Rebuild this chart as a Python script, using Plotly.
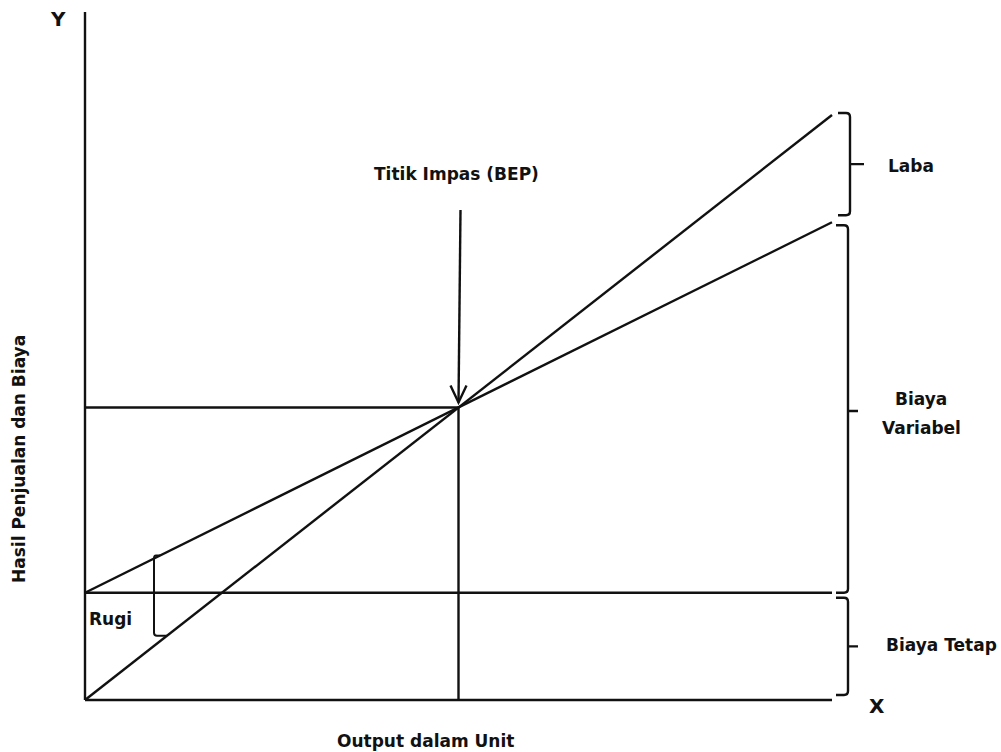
import plotly.graph_objects as go

# ---------------- data (break-even model) ----------------
output_units = [0, 100]          # output quantity range
sales_revenue = [0, 600]         # hasil penjualan at output range ends
total_cost = [110, 490]          # biaya total at output range ends
fixed_cost = [110, 110]          # biaya tetap
bep_units = 50                   # titik impas (output)
bep_value = 300                  # titik impas (value)

labels = {
    "bep": "Titik Impas (BEP)",
    "laba": "Laba",
    "var1": "Biaya",
    "var2": "Variabel",
    "tetap": "Biaya Tetap",
    "rugi": "Rugi",
    "x": "X",
    "y": "Y",
    "xtitle": "Output dalam Unit",
    "ytitle": "Hasil Penjualan dan Biaya",
}

# ---------------- layout geometry (pixels) ----------------
W, H = 1001, 752
X0PX, X1PX = 85, 832      # pixel of output 0 and 100
Y0PX = 700                # pixel of value 0
SY = 0.975                # pixels per value unit
SX = (X1PX - X0PX) / (output_units[1] - output_units[0])


def dx(p):
    return p / SX


def dy(p):
    return p / SY


xr = [-X0PX / SX, (W - X0PX) / SX]
yr = [-(H - Y0PX) / SY, Y0PX / SY]

INK = "#111111"
LW = 2.4

fig = go.Figure()


def seg(xs, ys, w=LW):
    fig.add_trace(go.Scatter(x=xs, y=ys, mode="lines",
                             line=dict(color=INK, width=w),
                             hoverinfo="skip", showlegend=False))


def rev(q):
    return sales_revenue[0] + (sales_revenue[1] - sales_revenue[0]) * q / output_units[1]


def cost(q):
    return total_cost[0] + (total_cost[1] - total_cost[0]) * q / output_units[1]


# axes
seg([0, 0], [0, dy(Y0PX - 12)])
seg(output_units, [0, 0])
# main lines
seg(output_units, sales_revenue)
seg(output_units, total_cost)
seg(output_units, fixed_cost)
# BEP guides
seg([0, bep_units], [bep_value, bep_value])
seg([bep_units, bep_units], [0, bep_value])

shapes = []


def path_shape(d, w=LW):
    shapes.append(dict(type="path", path=d, xref="x", yref="y",
                       line=dict(color=INK, width=w)))


def P(x, y):
    return f"{x:.4f},{y:.4f}"


def brace(xc_px, ytop, ybot, ymid, nub_px):
    xc = dx(xc_px - X0PX)
    hook = dx(12)
    rx, ry = dx(4), dy(4)
    d = (f"M{P(xc - hook, ytop)} L{P(xc - rx, ytop)} Q{P(xc, ytop)} {P(xc, ytop - ry)} "
         f"L{P(xc, ybot + ry)} Q{P(xc, ybot)} {P(xc - rx, ybot)} L{P(xc - hook, ybot)} "
         f"M{P(xc, ymid)} L{P(xc + dx(nub_px), ymid)}")
    path_shape(d)


# Laba brace
lt, lb = sales_revenue[1] + dy(2), total_cost[1] + dy(7)
brace(850, lt, lb, (lt + lb) / 2, 14)
# Biaya Variabel brace
brace(848, total_cost[1] - dy(3), fixed_cost[1], dy(Y0PX - 411), 10)
# Biaya Tetap brace
brace(848, fixed_cost[1] - dy(5), dy(5), fixed_cost[1] / 2, 10)

# Rugi brace
ur = dx(154 - X0PX)
qa, qb = ur + dx(6), ur + dx(13)
ya, yb = cost(qa), rev(qb)
d = (f"M{P(qa, ya)} L{P(ur + dx(2), ya)} Q{P(ur, ya)} {P(ur, ya - dy(3))} "
     f"L{P(ur, yb + dy(3))} Q{P(ur, yb)} {P(ur + dx(3), yb)} L{P(qb, yb)}")
path_shape(d, 2.0)

# BEP arrow
tail = dy(Y0PX - 210)
tip = bep_value + dy(5)
path_shape(f"M{P(bep_units + dx(2), tail)} L{P(bep_units, tip)}")
path_shape(f"M{P(bep_units - dx(8), tip + dy(17))} L{P(bep_units, tip)} "
           f"L{P(bep_units + dx(8), tip + dy(17))}")

FONT = dict(family="DejaVu Sans, Open Sans, Arial", size=17, color=INK)


def txt(key, xpx, ypx, angle=0, size=None):
    f = dict(FONT)
    if size:
        f["size"] = size
    fig.add_annotation(x=xpx / W, y=1 - ypx / H, xref="paper", yref="paper",
                       text=f"<b>{labels[key]}</b>", showarrow=False,
                       textangle=angle, font=f, xanchor="center", yanchor="middle")


txt("bep", 456, 174)
txt("laba", 911, 166)
txt("var1", 921, 399)
txt("var2", 921, 428)
txt("tetap", 941, 645)
txt("rugi", 110, 619)
txt("x", 877, 706, size=20)
txt("y", 58, 19, size=20)
txt("xtitle", 425, 741)
txt("ytitle", 19, 459, angle=-90)

fig.update_layout(
    width=W, height=H,
    margin=dict(l=0, r=0, t=0, b=0),
    paper_bgcolor="white", plot_bgcolor="white",
    xaxis=dict(range=xr, visible=False, fixedrange=True),
    yaxis=dict(range=yr, visible=False, fixedrange=True),
    shapes=shapes,
    showlegend=False,
)

fig.write_html("out.html", config={"displayModeBar": False},
               post_script="document.body.style.margin='0px';")
